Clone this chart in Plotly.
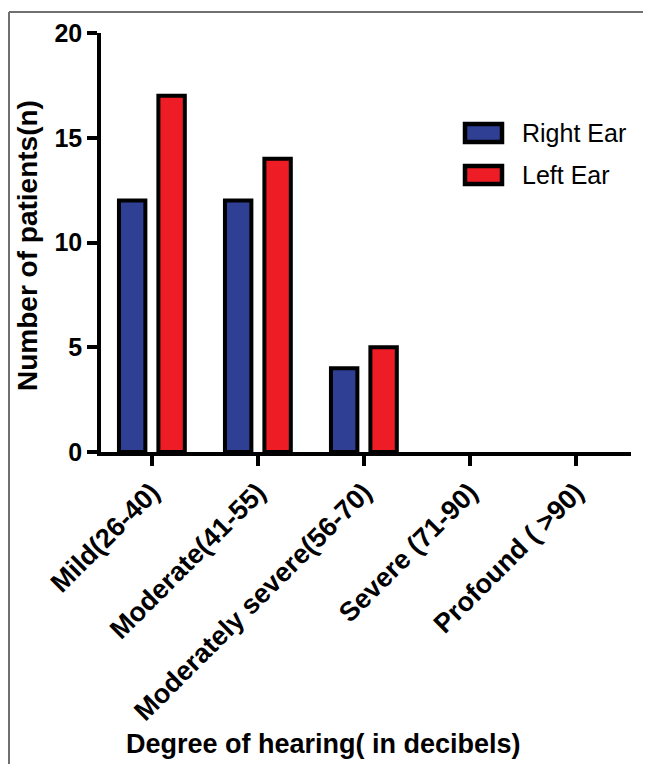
import plotly.graph_objects as go

# ---- data ----
categories = ["Mild(26-40)", "Moderate(41-55)", "Moderately severe(56-70)",
              "Severe (71-90)", "Profound ( >90)"]
series_names = ["Right Ear", "Left Ear"]
right_ear = [12, 12, 4, 0, 0]
left_ear = [17, 14, 5, 0, 0]
y_ticks = [0, 5, 10, 15, 20]

colors = ["#2E3F94", "#EE1C24"]
FONT = "Liberation Sans, Arial, sans-serif"

# page body has an 8px margin; figure is offset by it
OFF = 8
W, H = 651 - OFF, 764 - OFF
L, T = 101 - OFF, 33 - OFF
R = W - (631 - OFF)
B = H - (452 - OFF)
PW, PH = W - L - R, H - T - B


def px(x):  # x in window pixels -> paper
    return (x - OFF - L) / PW


def py(y):  # y in window pixels -> paper
    return (H - B - (y - OFF)) / PH


fig = go.Figure()
for name, vals, col in zip(series_names, [right_ear, left_ear], colors):
    fig.add_trace(go.Bar(
        x=list(range(len(categories))), y=vals, name=name,
        marker=dict(color=col,
                    line=dict(color="black",
                              width=[4 if v > 0 else 0 for v in vals])),
        showlegend=False,
    ))

shapes = []
# figure frame (top and left)
shapes.append(dict(type="line", xref="paper", yref="paper",
                   x0=px(9), x1=px(651), y0=py(12), y1=py(12),
                   line=dict(color="#707070", width=2)))
shapes.append(dict(type="line", xref="paper", yref="paper",
                   x0=px(9), x1=px(9), y0=py(12), y1=py(764),
                   line=dict(color="#707070", width=2)))

annotations = []
# custom legend
leg_y = [133, 175]
for name, col, cy in zip(series_names, colors, leg_y):
    shapes.append(dict(type="rect", xref="paper", yref="paper",
                       x0=px(465), x1=px(502), y0=py(cy - 9), y1=py(cy + 9),
                       fillcolor=col, line=dict(color="black", width=4.5)))
    annotations.append(dict(text=name, xref="paper", yref="paper",
                            x=px(520), y=py(cy), xanchor="left", yanchor="middle",
                            showarrow=False,
                            font=dict(family=FONT, size=25, color="black")))

annotations.append(dict(text="Number of patients(n)", xref="paper", yref="paper",
                        x=px(27), y=py(246), xanchor="center", yanchor="middle",
                        textangle=-90, showarrow=False,
                        font=dict(family=FONT, size=28, color="black", weight="bold")))
annotations.append(dict(text="Degree of hearing( in decibels)", xref="paper", yref="paper",
                        x=px(323), y=py(744), xanchor="center", yanchor="middle",
                        showarrow=False,
                        font=dict(family=FONT, size=27, color="black", weight="bold")))

fig.update_layout(
    width=W, height=H,
    margin=dict(l=L, r=R, t=T, b=B, autoexpand=False),
    paper_bgcolor="white", plot_bgcolor="white",
    barmode="group", bargap=0.256, bargroupgap=0.33,
    shapes=shapes, annotations=annotations,
    xaxis=dict(
        range=[-0.48, 4.52], tickmode="array",
        tickvals=list(range(len(categories))), ticktext=categories,
        tickangle=-45, ticks="outside", ticklen=10, tickwidth=3.5, tickcolor="black",
        showline=True, linecolor="black", linewidth=3.5, showgrid=False, zeroline=False,
        tickfont=dict(family=FONT, size=27, color="black", weight="bold"),
    ),
    yaxis=dict(
        range=[0, 20], tickmode="array", tickvals=y_ticks,
        ticks="outside", ticklen=10, tickwidth=3.5, tickcolor="black",
        showline=True, linecolor="black", linewidth=3.5, showgrid=False, zeroline=False,
        tickfont=dict(family=FONT, size=25, color="black", weight="bold"),
    ),
)

fig.write_html("out.html")
